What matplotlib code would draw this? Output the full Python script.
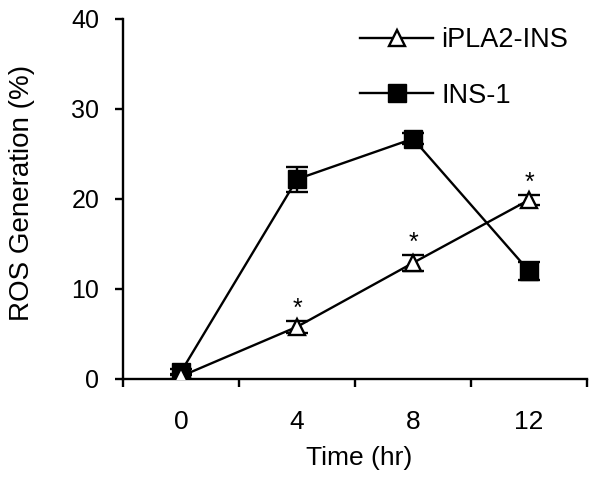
import matplotlib
matplotlib.use("Agg")
import matplotlib.pyplot as plt
from matplotlib.lines import Line2D
import numpy as np

categories = ["0", "4", "8", "12"]
ipla2 = [0.3, 5.8, 12.9, 19.9]
ipla2_err = [0.3, 0.7, 0.9, 0.6]
ins1 = [0.8, 22.2, 26.7, 12.0]
ins1_err = [0.3, 1.4, 0.6, 1.0]
star_idx = [1, 2, 3]

plt.rcParams['font.family'] = ['Liberation Sans', 'DejaVu Sans']
fig = plt.figure(figsize=(6.0, 4.79), dpi=100)
ax = fig.add_axes([123/600, 1-379/479, 464/600, 360/479])
x = np.arange(len(categories))

lw = 1.7
ax.errorbar(x, ins1, yerr=ins1_err, color='black', lw=lw, marker='s', ms=13.5,
            mfc='black', mec='black', capsize=8, capthick=lw, elinewidth=lw, zorder=3)
ax.errorbar(x, ipla2, yerr=ipla2_err, color='black', lw=lw, marker='^', ms=12,
            mfc='white', mec='black', mew=lw, capsize=8, capthick=lw, elinewidth=lw, zorder=4)
for i in star_idx:
    ax.text(x[i], ipla2[i] + ipla2_err[i] + 0.5, '*', ha='center', va='baseline', fontsize=18)

ax.set_xlim(-0.5, 3.5)
ax.set_ylim(0, 40)
ax.set_yticks([0, 10, 20, 30, 40])
ax.set_xticks(np.arange(-0.5, 4, 1.0))
ax.set_xticklabels([])
ax.set_xticks(x, minor=True)
ax.set_xticklabels(categories, minor=True, fontsize=19)
ax.tick_params(axis='x', which='minor', length=0, pad=22)
ax.tick_params(axis='x', which='major', direction='out', length=6, width=lw)
ax.tick_params(axis='y', direction='out', length=6, width=lw, labelsize=18, pad=11)
for s in ['top', 'right']:
    ax.spines[s].set_visible(False)
for s in ['left', 'bottom']:
    ax.spines[s].set_linewidth(lw)

fig.text(22/600, 1-193/479, 'ROS Generation (%)', rotation=90, ha='center', va='center', fontsize=20)
fig.text(359/600, 1-458/479, 'Time (hr)', ha='center', va='center', fontsize=19)

handles = [Line2D([], [], color='black', lw=lw, marker='^', ms=12, mfc='white', mec='black', mew=lw),
           Line2D([], [], color='black', lw=lw, marker='s', ms=13.5, mfc='black', mec='black')]
fig.legend(handles, ['iPLA2-INS', 'INS-1'], loc='upper left', bbox_to_anchor=(360/600, 1-27/479),
           frameon=False, fontsize=19.5, handlelength=2.7, labelspacing=1.1, handletextpad=0.3,
           borderpad=0, borderaxespad=0)

fig.savefig('out.png', dpi=100)
